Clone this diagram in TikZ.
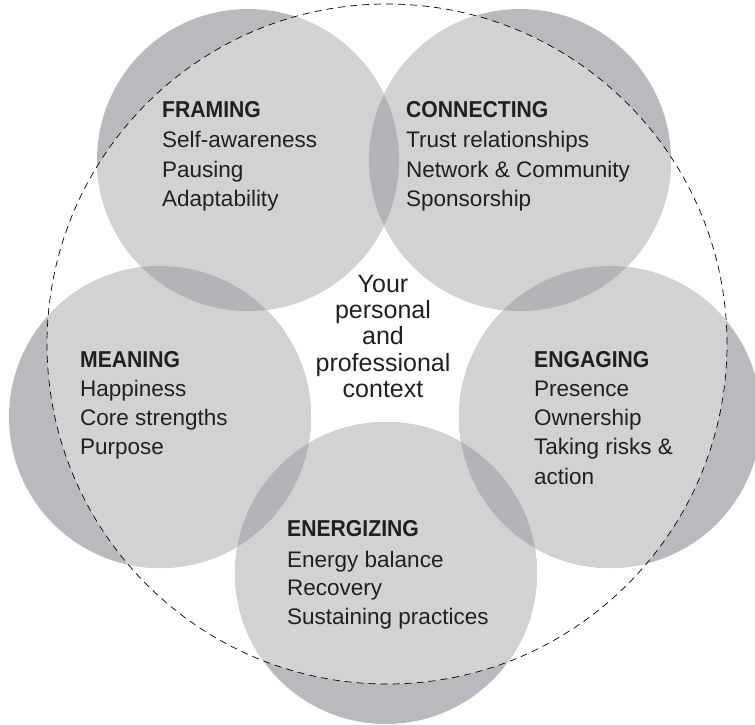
\documentclass[tikz,border=0pt]{standalone}
\usepackage{fontspec}
\setmainfont{Liberation Sans}
\newfontfamily\headfont[FakeStretch=0.92]{Liberation Sans}
\definecolor{cLight}{RGB}{209,210,212}
\definecolor{cDark}{RGB}{185,186,189}
\definecolor{cOver}{RGB}{179,180,183}
\definecolor{cText}{RGB}{35,31,32}
\begin{document}
\begin{tikzpicture}[x=1pt,y=-1pt,
  lab/.style={anchor=base west,inner sep=0pt,text=cText,font=\fontsize{22.5}{26}\selectfont},
  head/.style={lab,font=\fontsize{23}{26}\headfont\bfseries},
  ctx/.style={anchor=base,inner sep=0pt,text=cText,font=\fontsize{25}{27}\selectfont},
  ring/.style={draw=black,line width=0.7pt,dash pattern=on 7pt off 5pt}]
\useasboundingbox (0,0) rectangle (755,724);
\coordinate (cF) at (248,160);
\coordinate (cC) at (520,160);
\coordinate (cM) at (160,417);
\coordinate (cE) at (610,417);
\coordinate (cN) at (386,573);
\coordinate (cX) at (387,344);
\def\R{151pt}
% outer (darker) parts
\fill[cDark] (cF) circle[radius=\R] (cC) circle[radius=\R] (cM) circle[radius=\R] (cE) circle[radius=\R] (cN) circle[radius=\R];
\begin{scope}
  \clip (cX) circle[radius=340pt];
  \foreach \c in {cF,cC,cM,cE,cN}{\fill[cLight] (\c) circle[radius=\R];}
  \begin{scope}\clip (cF) circle[radius=\R];
    \fill[cOver] (cC) circle[radius=\R] (cM) circle[radius=\R];\end{scope}
  \begin{scope}\clip (cC) circle[radius=\R];
    \fill[cOver] (cE) circle[radius=\R];\end{scope}
  \begin{scope}\clip (cN) circle[radius=\R];
    \fill[cOver] (cM) circle[radius=\R] (cE) circle[radius=\R];\end{scope}
\end{scope}
\draw[ring] (cX) circle[radius=340pt];
% FRAMING
\node[head] (f0) at (162,117) {FRAMING};
\node[lab] (f1) at (162,147) {Self-awareness};
\node[lab] (f2) at (162,177) {Pausing};
\node[lab] (f3) at (162,206) {Adaptability};
% CONNECTING
\node[head] (c0) at (406,117) {CONNECTING};
\node[lab] (c1) at (406,147) {Trust relationships};
\node[lab] (c2) at (406,177) {Network \& Community};
\node[lab] (c3) at (406,206) {Sponsorship};
% MEANING
\node[head] (m0) at (80,367) {MEANING};
\node[lab] (m1) at (80,396) {Happiness};
\node[lab] (m2) at (80,425) {Core strengths};
\node[lab] (m3) at (80,454) {Purpose};
% ENGAGING
\node[head] (e0) at (534,367) {ENGAGING};
\node[lab] (e1) at (534,396) {Presence};
\node[lab] (e2) at (534,425) {Ownership};
\node[lab] (e3) at (534,454) {Taking risks \&};
\node[lab] (e4) at (534,484) {action};
% ENERGIZING
\node[head] (n0) at (287,536) {ENERGIZING};
\node[lab] (n1) at (287,567) {Energy balance};
\node[lab] (n2) at (287,595) {Recovery};
\node[lab] (n3) at (287,624) {Sustaining practices};
% context
\node[ctx] (x0) at (383,292) {Your};
\node[ctx] (x1) at (383,318) {personal};
\node[ctx] (x2) at (383,344) {and};
\node[ctx] (x3) at (383,371) {professional};
\node[ctx] (x4) at (383,397) {context};
\end{tikzpicture}
\end{document}
